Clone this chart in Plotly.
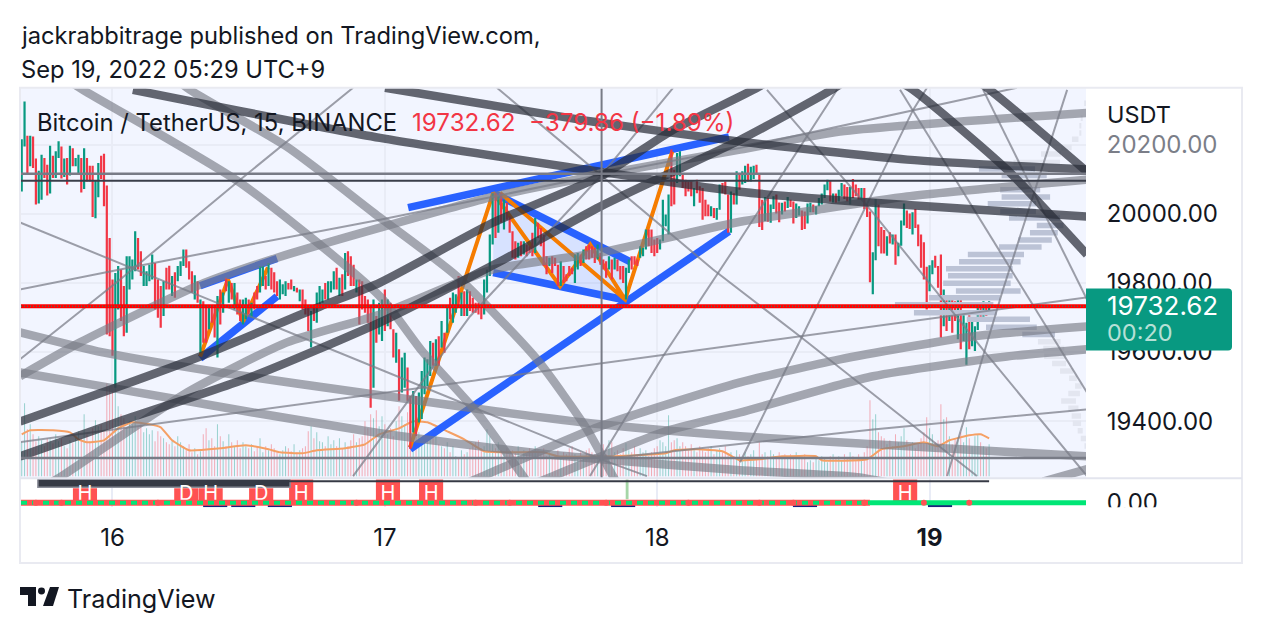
import plotly.graph_objects as go

bar_high = [
20216,20325,20226,20226,20224,20160,20125,20171,20162,20142,
20197,20168,20181,20210,20195,20160,20162,20197,20190,20162,
20171,20162,20190,20162,20139,20139,20097,20147,20168,20174,
20082,19930,19810,19829,19849,19839,19791,19877,19877,19868,
19950,19930,19892,19849,19834,19853,19882,19858,19810,19791,
19805,19844,19850,19820,19831,19849,19863,19897,19897,19863,
19834,19822,19805,19752,19747,19733,19733,19733,19733,19762,
19781,19772,19815,19805,19800,19800,19772,19752,19752,19757,
19752,19743,19772,19791,19849,19849,19820,19858,19844,19831,
19805,19810,19796,19805,19800,19810,19791,19786,19781,19781,
19752,19728,19719,19733,19772,19791,19781,19800,19805,19805,
19834,19844,19815,19825,19887,19892,19877,19853,19810,19810,
19805,19762,19752,19733,19752,19704,19743,19752,19781,19752,
19743,19666,19656,19608,19584,19598,19555,19473,19487,19473,
19483,19545,19584,19579,19632,19627,19637,19646,19690,19656,
19728,19757,19772,19767,19820,19772,19776,19781,19776,19757,
19743,19743,19733,19810,19839,19940,20060,20060,20051,20060,
20041,20032,19993,19950,19921,19916,19921,19921,19911,19906,
19945,19988,19974,19959,19940,19877,19873,19877,19873,19853,
19863,19849,19825,19849,19844,19882,19887,19882,19897,19906,
19911,19906,19902,19911,19887,19868,19863,19877,19868,19873,
19868,19849,19849,19844,19868,19877,19877,19868,19906,19902,
19955,19955,19955,19926,19930,19926,20041,19998,20056,20186,
20128,20176,20181,20113,20099,20094,20094,20075,20099,20080,
20075,20041,20027,20022,20017,20017,20085,20089,20094,20056,
20065,20060,20123,20113,20123,20139,20145,20136,20139,20142,
20113,20041,20049,20046,20027,20051,20056,20033,20032,20036,
20049,20041,20036,20030,20022,20010,20007,20030,20032,20027,
20022,20046,20059,20085,20099,20097,20059,20059,20070,20089,
20085,20078,20078,20101,20085,20075,20075,20075,20027,20007,
19889,20043,20027,19962,19953,19935,19947,19940,19940,19916,
19981,20030,20010,20001,20005,20014,19969,19940,19918,19847,
19851,19866,19879,19849,19882,19781,19760,19754,19762,19747,
19762,19752,19721,19685,19709,19694,19675,19733,19738,19747,
19733,19747]
bar_low = [
20065,20195,20118,20138,20133,20027,20030,20041,20104,20053,
20059,20104,20104,20162,20102,20107,20085,20111,20138,20138,
20118,20062,20072,20094,20094,19991,19987,20048,20101,20022,
19651,19646,19589,19497,19723,19690,19646,19656,19781,19810,
19834,19839,19820,19791,19791,19805,19810,19723,19699,19670,
19704,19781,19781,19762,19757,19805,19820,19849,19844,19810,
19772,19752,19743,19598,19627,19627,19666,19685,19642,19584,
19680,19714,19776,19743,19752,19723,19709,19690,19680,19695,
19709,19699,19723,19752,19772,19791,19781,19791,19781,19772,
19762,19752,19767,19762,19781,19781,19776,19772,19747,19723,
19709,19661,19613,19690,19685,19738,19743,19752,19752,19772,
19781,19781,19762,19762,19781,19820,19791,19791,19772,19680,
19723,19714,19685,19439,19497,19627,19651,19632,19661,19675,
19666,19584,19569,19459,19483,19497,19459,19319,19367,19357,
19396,19406,19478,19502,19531,19560,19560,19560,19613,19598,
19656,19695,19685,19714,19733,19704,19704,19704,19719,19714,
19714,19709,19695,19709,19772,19820,19911,19930,19945,19974,
19955,19983,19945,19873,19868,19873,19877,19882,19877,19887,
19877,19887,19930,19906,19849,19825,19849,19829,19849,19791,
19791,19800,19805,19820,19825,19800,19839,19849,19858,19868,
19868,19873,19858,19868,19853,19839,19815,19839,19810,19839,
19834,19810,19800,19752,19829,19839,19853,19849,19873,19877,
19897,19906,19887,19877,19887,19897,19921,19964,19940,20022,
20027,20089,20109,20075,20051,20065,20051,20022,20060,20032,
19983,19993,19993,19993,19988,19983,20012,20060,20056,19945,
19945,20027,20027,20070,20085,20089,20094,20094,20101,20113,
19962,19953,19979,19977,19974,20014,20001,19976,19998,20007,
20017,20020,19972,19988,19995,19953,19956,19972,20005,20005,
19998,20022,20027,20046,20068,20036,20033,20032,20036,20051,
20043,20036,20027,20046,20051,20041,20041,20014,19991,19802,
19767,19866,19906,19885,19885,19879,19914,19911,19853,19877,
19908,19966,19959,19956,19940,19959,19906,19844,19810,19723,
19776,19825,19844,19786,19642,19675,19661,19690,19656,19690,
19637,19608,19632,19563,19608,19617,19603,19664,19690,19694,
19704,19709]
bar_dir = ("ggrgrrggrr" "grggrgrgrg" "grgrrrggrr" "rrrggrrggg" "grrggggrrr" "grrgrgggrr"
           "rgrgrrgrrg" "rgrgrgrrgg" "rgrrggrgrr" "rgggrrgrgr" "rrgrgggrgg" "grgrgrrrgr"
           "rrrrgrggrg" "rrgrggrrgr" "gggggrgrgr" "grggrgrgrr" "rrrggggrgr" "grrrrgrgrr"
           "rgrrrrgrrr" "grrrrggrgr" "rrrgrrrgrg" "rrrggrrrgg" "grrrrggggr" "rggrrrrgrr"
           "rrrgrggrrr" "grgrggrggr" "rrgrggrrgr" "grrggrrggr" "gggggrgrgg" "rrgrrrgrrr"
           "ggrrrgrgrg" "ggrrgrrrrr" "ggrrrgrgrr" "grggrgggrg" "rg")
volume = [
34,73,47,52,42,35,40,36,30,38, 37,33,42,35,38,30,28,36,33,40,
45,38,62,42,35,48,56,50,52,46, 93,90,85,92,70,62,58,48,55,52,
60,50,52,44,48,42,46,35,45,40, 38,34,32,35,30,40,34,30,28,32,
24,28,22,25,42,48,36,38,30,52, 40,35,30,42,34,30,36,28,34,30,
28,32,25,30,38,24,30,26,32,28, 24,22,26,30,28,25,32,24,26,28,
30,45,50,38,44,35,34,30,40,32, 36,30,38,28,34,30,36,42,34,38,
40,55,48,62,58,66,50,60,52,42, 48,40,55,70,60,52,64,58,50,46,
44,38,40,36,42,38,44,32,30,28, 34,24,30,20,18,26,22,24,28,32,
34,36,28,30,47,40,32,28,34,26, 24,28,22,26,24,30,20,26,22,28,
24,30,26,22,28,20,24,18,22,26, 20,24,22,28,30,22,18,24,20,26,
28,24,22,18,24,32,22,36,34,24, 26,22,28,33,26,24,30,22,28,24,
26,20,24,28,30,36,34,30,61,34, 36,38,30,34,30,26,32,28,24,30,
26,24,28,30,22,26,28,24,30,22, 24,20,26,22,18,24,20,22,26,18,
34,22,24,20,26,22,18,24,20,22, 18,22,20,24,18,20,22,14,16,14,
18,16,20,18,14,20,22,18,20,16, 22,18,24,20,16,22,18,24,30,76,
57,62,44,40,38,32,36,30,42,34, 40,48,36,30,34,28,32,38,44,59,
48,42,34,36,72,57,59,40,32,38, 36,44,34,49,38,30,40,42,34,30,
28,32]
ma_bar = [0,3,11,17,20,23,29,34,39,45,49,53,59,70,79,87,91,99,104,114,121,126,133,138,143,150,156,163,173,184,189,209,227,230,238,247,251,253,260,268,280,282,298,303,311,318,323,327,334,338,341]
ma_val = [42,46,46,44,37,34,36,48,54,52,49,36,26,28,31,27,24,23,26,28,32,42,48,55,54,45,37,25,24,24,20,20,23,26,27,25,19,16,17,20,20,16,17,27,30,34,30,36,41,42,38]

day_ticks = [32, 128, 224, 320]
day_labels = ["16", "17", "18", "<b>19</b>"]
price_ticks = [19400, 19600, 19800, 20000, 20200]
price_labels = ["19400.00", "19600.00", "19800.00", "20000.00", '<span style="color:#7b7e88">20200.00</span>']
last_price = 19732.62

dark_curves = [
 ([39.2,126.3,203.9,253.2,300.1,375.5],[20359,20220,20122,20064,20032,19992]),
 ([128.1,203.9,253.2,312.1,375.5],[20365,20264,20209,20157,20128]),
 ([-0.6,33.6,62.9,105.2,126.3,166.2,203.9,229.6,259.2,270],[19399,19498,19587,19732,19801,19975,20108,20243,20365,20420]),
 ([-0.6,33.6,81.5,126.3,168.6,203.9,253.2,286.7,296],[19298,19397,19530,19686,19862,20021,20214,20365,20420]),
 ([300,313.1,347.3,375.5],[20420,20365,20128,19882]),
 ([330,340.3,375.5],[20420,20365,20122]),
]
gray_curves = [
 ([10,21.6,77,126.3,141.5,160.5,176.7,181],[20420,20359,20090,19761,19599,19425,19241,19190]),
 ([50,59.3,93.5,126.3,153.4,181.6,199.3,208.4,212],[20420,20359,20194,19989,19819,19579,19376,19241,19190]),
 ([-0.6,20.6,62.9,90,126.3,166.2,203.9,253.2,288.4,375.5],[19530,19628,19795,19873,19960,20050,20113,20186,20238,20292]),
 ([3,12.4,58.3,93.5,126.3,166.2,203.9,253.2,280.4,312.1,375.5],[19190,19232,19483,19628,19709,19839,19888,19977,20012,20050,20099]),
 ([-0.6,28.6,69.9,126.3,167.5,203.9,253.2,300.1,375.5],[19657,19599,19541,19475,19428,19391,19356,19333,19298]),
 ([-0.6,34.7,81.5,126.3,149.9,185.2,203.9,253.2,294.4,320],[19541,19492,19425,19365,19339,19304,19290,19258,19238,19200]),
 ([150,162.6,203.9,253.2,288.4,335.3,375.5],[19197,19241,19385,19512,19579,19645,19674]),
 ([174,187.3,226,253.2,300.1,347.3,375.5],[19197,19241,19368,19425,19530,19587,19608]),
 ([360,376],[19225,19262]),
]
thin_lines = [
 ([-0.6,38.2,126.3,203.9,253.2,314.2,350.8],[19781,19845,19983,20113,20191,20301,20365]),
 ([-0.6,34.7,77,116.8],[19579,19810,20099,20365]),
 ([-0.6,126.3,203.9,220.4],[19975,19550,19290,19241]),
 ([-0.6,126.3,253.2,375.5],[19339,19480,19622,19758]),
 ([167.5,203.9,243.7,274.4,336.7],[20365,20113,19839,19645,19241]),
 ([200.3,226,253.2,287.4],[19241,19587,19925,20359]),
 ([253.2,275.1,314.2,319.1],[19281,19645,20301,20365]),
 ([326.2,345.9,368.5],[19241,19781,20359]),
 ([338.9,375.5],[20359,19752]),
 ([309.6,353.7,375.5],[20359,19772,19483]),
 ([262.7,300.1,339.6,375.5],[20359,20003,19599,19241]),
 ([116.8,158,203.9,229.6],[19241,19703,20108,20365]),
 ([203.9,300.1,375.5],[19290,19376,19434]),
]
blue_lines = [
 ([62.9,90],[19792,19871]),
 ([62.9,90],[19582,19761]),
 ([136.2,249.3],[20018,20223]),
 ([136.9,249.3],[19319,19949]),
 ([166.2,214.4],[20061,19862]),
 ([166.2,211.9],[19830,19752]),
]
wedge_bar = [166.2,214.4,211.9,166.2]
wedge_price = [20061,19862,19752,19830]
orange_lines = [
 ([62.9,72.7,78,86.8],[19587,19810,19688,19845]),
 ([136.9,166.2,189.8,200.4,212.7,168.6,212.7,229.3],[19324,20061,19790,19911,19752,20061,19752,20180]),
]
level_prices = [20116, 20096, 19293]
cross_bar = 204.4
vp_price = [20130,20111,20070,20049,20029,20007,19988,19966,19945,19924,19904,19882,19861,19841,19821,19799,19777,19757,19737,19714,19695,19672,19651]
vp_from = [337.4,345.4,344.9,345.4,340.5,344.9,348,357.8,355.4,351.3,344.5,333.5,330.4,325.8,326.5,324.8,329.3,319.8,307.8,314.5,333.1,339.9,352.7]
vp_to = [357.2,361.3,359,362.5,357.5,357.5,366,367.2,365.2,363.1,359.5,353.3,352.1,349.3,349.3,348.6,352.1,344.9,342.5,343.7,355.4,357.8,364.2]
vp2_price = [20320,20277,20255,20234,20216,20192,20173,20149,19630,19610,19588,19567,19545,19524,19502,19480,19458,19437,19415,19394,19372,19350,19328]
vp2_from = [374.5,373.3,372.8,372.8,370.2,366.4,359.3,349.6,358.2,360.1,360.4,363.2,366,369.2,371.3,368.9,366.4,368.9,370.1,370.5,372.2,373.3,374.6]
vp2_to = [375.2,374,373.5,373.5,372.5,370.1,366.4,366,366.2,367.5,368.1,368.1,370.7,371.9,373.6,373,371.6,372.5,373.4,373.4,374,375.2,375.4]
tag_bar = [22.3,58.0,66.6,84.4,98.5,129.1,144.3,311.4]
tag_text = ["H","D","H","D","H","H","H","H"]
tag_top = [19,19,19,19,28,28,28,28]
navy_bar = [68.2,78.1,91,186.3,212,276.1,323.7]
dot_bar = [5,14,48,118,160,172,206,235,260,272,297,318,334]

GREEN, RED = "#089981", "#F23645"
FONT = "Inter"
W, H = 1262, 634
FIG_H = 642
L, R = 21, 1086
fx = lambda p: p / W
fy = lambda p: 1 - p / H
PRICE_RANGE = [19234.7, 20364.7]

fig = go.Figure()
n = len(bar_high)
idx = list(range(n))
# volume and its average: lowest layer
for d, vc in (("g", "rgba(8,153,129,0.38)"), ("r", "rgba(242,54,69,0.38)")):
    sel = [i for i in idx if bar_dir[i] == d]
    fig.add_bar(x=sel, y=[volume[i] for i in sel], width=0.36, marker=dict(color=vc, line_width=0), yaxis="y", showlegend=False)
fig.add_scatter(x=ma_bar, y=ma_val, mode="lines", line=dict(color="#F5A065", width=2, shape="spline", smoothing=0.4), yaxis="y", showlegend=False)

# pattern drawings: under the candles
fig.add_scatter(x=wedge_bar, y=wedge_price, mode="lines", fill="toself", fillcolor="rgba(41,98,255,0.13)", line_width=0, yaxis="y2", showlegend=False)
for xs, ys in blue_lines:
    fig.add_scatter(x=xs, y=ys, mode="lines", line=dict(color="#2962FF", width=7.5), yaxis="y2", showlegend=False)
for xs, ys in orange_lines:
    fig.add_scatter(x=xs, y=ys, mode="lines", line=dict(color="#F57C00", width=4), yaxis="y2", showlegend=False)

# candles and everything over them
for d, col in (("g", GREEN), ("r", RED)):
    sel = [i for i in idx if bar_dir[i] == d]
    fig.add_bar(x=sel, base=[bar_low[i] for i in sel], y=[bar_high[i] - bar_low[i] for i in sel], width=0.78,
                marker=dict(color=col, line_width=0), yaxis="y3", showlegend=False)

def seg_trace(xa, xb, ys, color, width):
    xs, yy = [], []
    for a, b, p in zip(xa, xb, ys):
        xs += [a, b, None]; yy += [p, p, None]
    fig.add_scatter(x=xs, y=yy, mode="lines", line=dict(color=color, width=width), yaxis="y3", showlegend=False)

seg_trace(vp_from, vp_to, vp_price, "#BCC3D6", 5.5)
seg_trace(vp2_from, vp2_to, vp2_price, "#E3E6F0", 5.5)

def curves(lst, color, width, spline=True):
    for xs, ys in lst:
        ln = dict(color=color, width=width)
        if spline:
            ln.update(shape="spline", smoothing=0.6)
        fig.add_scatter(x=xs, y=ys, mode="lines", line=ln, yaxis="y3", showlegend=False)

xr = [-0.25, 375.15]
curves(thin_lines, "rgba(120,123,134,0.72)", 2, False)
curves(gray_curves, "rgba(120,123,134,0.65)", 8.5)
curves(dark_curves, "rgba(42,46,57,0.72)", 8.5)
for p, c, w in zip(level_prices, ["#787B86", "#3A3E4A", "#787B86"], [2.5, 2, 2.5]):
    fig.add_scatter(x=xr, y=[p, p], mode="lines", line=dict(color=c, width=w), yaxis="y3", showlegend=False)
fig.add_scatter(x=[cross_bar, cross_bar], y=[19234, 20365], mode="lines", line=dict(color="#787B86", width=2), yaxis="y3", showlegend=False)
fig.add_scatter(x=xr, y=[last_price, last_price], mode="lines", line=dict(color="#FF0000", width=4), yaxis="y3", showlegend=False)
fig.add_scatter(x=xr, y=[last_price, last_price], mode="lines", line=dict(color=GREEN, width=1, dash="1px,2px"), yaxis="y3", showlegend=False)

# lower pane
fig.add_bar(x=[213.4], base=[8], y=[20], width=1, marker=dict(color="#A5D6A7", line_width=0), yaxis="y4", showlegend=False)
fig.add_bar(x=navy_bar, base=[0]*len(navy_bar), y=[3]*len(navy_bar), width=8.5, marker=dict(color="#1A237E", line_width=0), yaxis="y4", showlegend=False)
fig.add_bar(x=tag_bar, base=[5]*len(tag_bar), y=[t - 5 for t in tag_top], width=8.5, marker=dict(color="#FF5252", line_width=0), yaxis="y4", showlegend=False)
fig.add_bar(x=[50.15], base=[20], y=[8], width=88.9, marker=dict(color="#363A45", line=dict(color="#8A8D98", width=1.5)), yaxis="y4", showlegend=False)
fig.add_scatter(x=[94, 341], y=[26, 26], mode="lines", line=dict(color="#363A45", width=2), yaxis="y4", showlegend=False)
fig.add_scatter(x=tag_bar, y=[12]*len(tag_bar), mode="text", text=tag_text, textfont=dict(family=FONT, size=20, color="#FFFFFF"), yaxis="y4", showlegend=False)
fig.add_scatter(x=[-0.25, 299], y=[4.5, 4.5], mode="lines", line=dict(color="#FF5252", width=6), yaxis="y4", showlegend=False)
fig.add_scatter(x=[-0.25, 299], y=[4.5, 4.5], mode="lines", line=dict(color="#00E676", width=4, dash="6px,5px"), yaxis="y4", showlegend=False)
fig.add_scatter(x=[299, 375.15], y=[4.5, 4.5], mode="lines", line=dict(color="#00E676", width=5), yaxis="y4", showlegend=False)
fig.add_scatter(x=dot_bar, y=[4.5]*len(dot_bar), mode="markers", marker=dict(color="#FF5252", size=6), yaxis="y4", showlegend=False)

dom_x = [fx(L), fx(R)]
main_dom = [fy(479), fy(88)]
fig.update_layout(
    width=W, height=FIG_H, margin=dict(l=0, r=0, t=0, b=0), autosize=False,
    paper_bgcolor="#FFFFFF", plot_bgcolor="#FFFFFF", barmode="overlay", showlegend=False,
    font=dict(family=FONT, color="#131722", size=24),
    xaxis=dict(domain=dom_x, range=xr, anchor="y4", tickvals=day_ticks, ticktext=day_labels, showgrid=True, gridcolor="#E9ECF6", gridwidth=2,
               ticks="outside", ticklen=9, tickcolor="rgba(0,0,0,0)", zeroline=False, showline=False, tickfont=dict(size=24)),
    yaxis=dict(domain=main_dom, range=[-2, 389], visible=False, fixedrange=True),
    yaxis2=dict(domain=main_dom, range=PRICE_RANGE, overlaying="y", visible=False, anchor="x"),
    yaxis3=dict(domain=main_dom, range=PRICE_RANGE, overlaying="y", side="right", anchor="x",
                tickvals=price_ticks, ticktext=price_labels, showgrid=True, gridcolor="#E9ECF6", gridwidth=2,
                ticks="outside", ticklen=15, tickcolor="rgba(0,0,0,0)", zeroline=False, tickfont=dict(size=24)),
    yaxis4=dict(domain=[fy(508), fy(480)], range=[0, 28], side="right", anchor="x", tickvals=[5], ticktext=["0.00"], showgrid=False,
                ticks="outside", ticklen=15, tickcolor="rgba(0,0,0,0)", zeroline=False, tickfont=dict(size=24)),
)

def rect(x0, y0, x1, y1, fill=None, line=None, layer="above", lw=1.5):
    fig.add_shape(type="rect", xref="paper", yref="paper", x0=fx(x0), x1=fx(x1), y0=fy(y1), y1=fy(y0),
                  fillcolor=fill, line=dict(color=line, width=lw if line else 0), layer=layer)

def path(pts, fill, layer="above"):
    d = "M " + " L ".join(f"{fx(a):.5f},{fy(b):.5f}" for a, b in pts) + " Z"
    fig.add_shape(type="path", xref="paper", yref="paper", path=d, fillcolor=fill, line_width=0, layer=layer)

rect(L, 88, R, 479, fill="#F2F5FF", layer="below")
rect(1087, 508, 1241, 562, fill="#FFFFFF")
rect(20, 88, 1242, 564, line="#E9EAF1", lw=2)
fig.add_shape(type="line", xref="paper", yref="paper", x0=fx(20), x1=fx(1242), y0=fy(479), y1=fy(479), line=dict(color="#E3E5EE", width=2))
# price label box
r = 4
box = f"M {fx(1086)},{fy(289)} L {fx(1232-r)},{fy(289)} Q {fx(1232)},{fy(289)} {fx(1232)},{fy(289+r)} L {fx(1232)},{fy(351-r)} Q {fx(1232)},{fy(351)} {fx(1232-r)},{fy(351)} L {fx(1086)},{fy(351)} Z"
fig.add_shape(type="path", xref="paper", yref="paper", path=box, fillcolor=GREEN, line_width=0, layer="above")
# TradingView mark
path([(20,588),(36,588),(36,607),(28,607),(28,596),(20,596)], "#131722")
path([(50,588),(59,588),(53,607),(43,607)], "#131722")
fig.add_shape(type="circle", xref="paper", yref="paper", x0=fx(38), x1=fx(45), y0=fy(595.5), y1=fy(588.5), fillcolor="#131722", line_width=0)

def label(px, py, text, size=24, color="#131722"):
    fig.add_annotation(xref="paper", yref="paper", x=fx(px), y=fy(py), text=text, showarrow=False, xanchor="left", yanchor="middle",
                       font=dict(family=FONT, size=size, color=color), xshift=0, yshift=0, borderpad=0, borderwidth=0)

label(21, 36, "jackrabbitrage published on TradingView.com,", size=23.7)
label(21, 70, "Sep 19, 2022 05:29 UTC+9", size=23.7)
label(37, 123, "Bitcoin / TetherUS, 15, BINANCE", size=23.8)
label(412, 123, "19732.62  −379.86 (−1.89%)", color=RED, size=24.2)
label(1107, 115, "USDT", size=23.5)
label(1107, 306, "19732.62", color="#FFFFFF", size=26)
label(1107, 333, "00:20", color="#B6E0D6", size=23.5)
label(67, 600, "TradingView", size=25.2)

fig.write_html("out.html", post_script="document.body.style.margin='0';", config=dict(displayModeBar=False))
